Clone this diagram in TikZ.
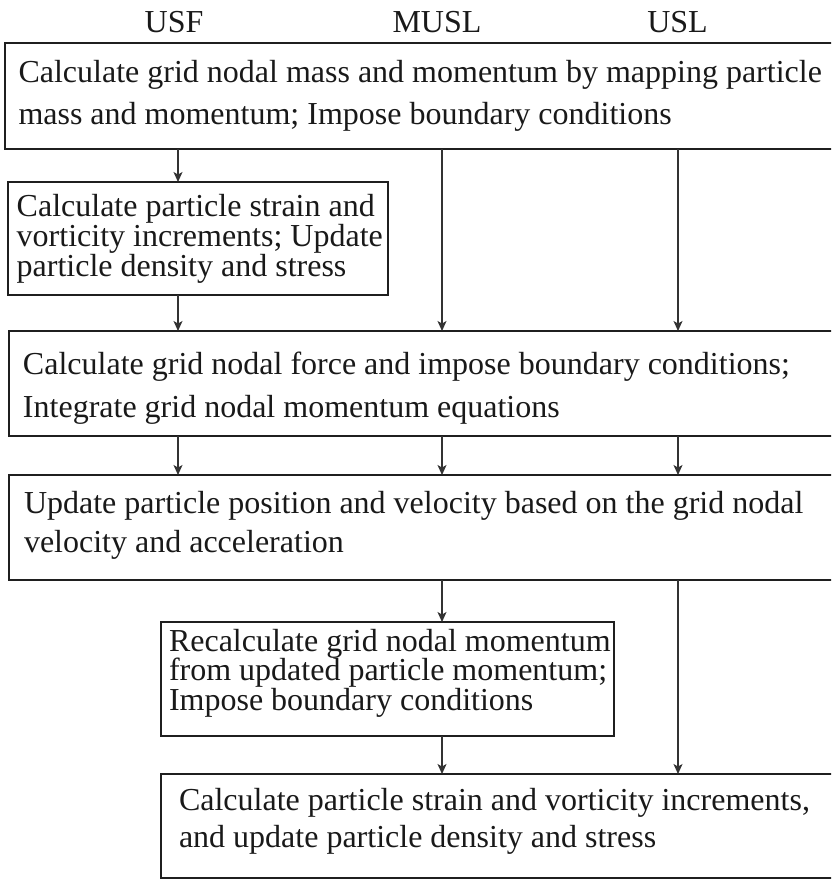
\documentclass[tikz,border=0pt]{standalone}
\usepackage{fontspec}
\setmainfont{Liberation Serif}
\usetikzlibrary{arrows.meta}
\newcommand{\boxtext}[2]{\parbox[t]{830pt}{\raggedright\fontsize{32}{#1}\selectfont\lineskiplimit=-100pt\lineskip=0pt #2}}
\tikzset{
  box/.style={draw=black!88, line width=2.3pt, inner sep=0pt, outer sep=0pt,
    anchor=north west, rectangle},
  txt/.style={anchor=base west, inner sep=0pt, outer sep=0pt, text=black!90},
  lbl/.style={anchor=base, inner sep=0pt, outer sep=0pt,
    font=\fontsize{32}{32}\selectfont, text=black!90},
  arr/.style={draw=black!80, line width=1.1pt,
    -{Stealth[length=10pt,width=9pt,inset=2.5pt]}}
}
\begin{document}
\begin{tikzpicture}[x=1pt,y=-1pt]
\useasboundingbox (0,0) rectangle (831,879);
\clip (0,0) rectangle (831,879);
% column coordinates
\coordinate (cUSF) at (178,0);
\coordinate (cMUSL) at (442,0);
\coordinate (cUSL) at (678,0);
% labels
\node[lbl] (lUSF) at (174,32) {USF};
\node[lbl] (lMUSL) at (437,32) {MUSL};
\node[lbl] (lUSL) at (677.5,32) {USL};
% boxes
\node[box, minimum width=845pt, minimum height=106pt] (b1) at (5,43) {};
\node[box, minimum width=379.7pt, minimum height=113pt] (b2) at (8.3,182) {};
\node[box, minimum width=845pt, minimum height=105pt] (b3) at (9,331) {};
\node[box, minimum width=845pt, minimum height=105pt] (b4) at (9,475) {};
\node[box, minimum width=453pt, minimum height=114pt] (b5) at (161,622) {};
\node[box, minimum width=700pt, minimum height=104pt] (b6) at (161,774) {};
% texts
\node[txt] (t1) at (18.5,82) {\boxtext{42}{Calculate grid nodal mass and momentum by mapping particle\\mass and momentum; Impose boundary conditions}};
\node[txt] (t2) at (16.7,216) {\boxtext{30}{Calculate particle strain and\\vorticity increments; Update\\particle density and stress}};
\node[txt] (t3) at (23,374) {\boxtext{43}{Calculate grid nodal force and impose boundary conditions;\\Integrate grid nodal momentum equations}};
\node[txt] (t4) at (24,513) {\boxtext{39}{Update particle position and velocity based on the grid nodal\\velocity and acceleration}};
\node[txt] (t5) at (169,651) {\boxtext{29.5}{Recalculate grid nodal momentum\\from updated particle momentum;\\Impose boundary conditions}};
\node[txt] (t6) at (179,810) {\boxtext{37}{Calculate particle strain and vorticity increments,\\and update particle density and stress}};
% USF arrows
\draw[arr] (b1.south -| cUSF) -- (b2.north -| cUSF);
\draw[arr] (b2.south -| cUSF) -- (b3.north -| cUSF);
\draw[arr] (b3.south -| cUSF) -- (b4.north -| cUSF);
% MUSL arrows
\draw[arr] (b1.south -| cMUSL) -- (b3.north -| cMUSL);
\draw[arr] (b3.south -| cMUSL) -- (b4.north -| cMUSL);
\draw[arr] (b4.south -| cMUSL) -- (b5.north -| cMUSL);
\draw[arr] (b5.south -| cMUSL) -- (b6.north -| cMUSL);
% USL arrows
\draw[arr] (b1.south -| cUSL) -- (b3.north -| cUSL);
\draw[arr] (b3.south -| cUSL) -- (b4.north -| cUSL);
\draw[arr] (b4.south -| cUSL) -- (b6.north -| cUSL);
\end{tikzpicture}
\end{document}
